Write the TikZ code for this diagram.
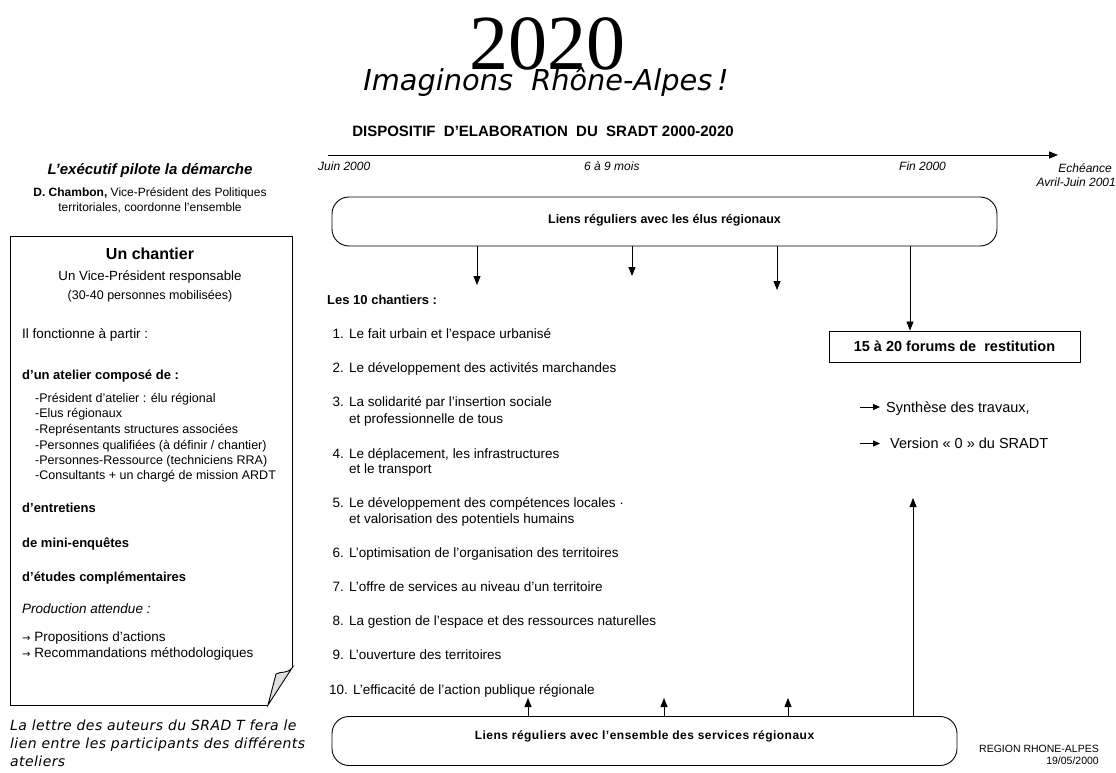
\documentclass[tikz,border=0pt]{standalone}
\usepackage{fontspec}
\setmainfont{Liberation Sans}
\newfontfamily\serifF{Liberation Serif}
\newfontfamily\comicF{DejaVu Sans}
\newfontfamily\dvF{DejaVu Sans}
\usetikzlibrary{arrows.meta}
\newcommand\fsz[2]{\fontsize{#1}{#2}\selectfont}
\begin{document}
\begin{tikzpicture}[x=1pt,y=-1pt,
  lbl/.style={inner sep=0pt, anchor=base west},
  clbl/.style={inner sep=0pt, anchor=base},
  rlbl/.style={inner sep=0pt, anchor=base east},
  boxline/.style={line width=0.9pt},
  rbox/.style={draw, line width=0.9pt, rounded corners=17pt, inner sep=0pt},
  arr/.style={line width=0.8pt, -{Triangle[length=9pt,width=7pt]}},
  sarr/.style={line width=0.8pt, -{Triangle[length=7pt,width=6pt]}},
  lst/.style={lbl, font=\fsz{13.5}{16}},
  llst/.style={lbl, font=\fsz{12.5}{15}},
  tl/.style={inner sep=0pt, anchor=base west, font=\itshape\fsz{12}{14}}
]
\useasboundingbox (0,0) rectangle (1116,773);

% ---------- header ----------
\node[clbl, font=\serifF\fsz{78}{80}] (t2020) at (547,70) {2020};
\node[clbl, font=\comicF\itshape\fsz{28.8}{30}] (imag) at (546,91) {Imaginons\ \ Rhône-Alpes\,!};
\node[clbl, font=\bfseries\fsz{15}{17}] (dispo) at (543,136) {DISPOSITIF\ \ D'ELABORATION\ \ DU\ \ SRADT 2000-2020};

% ---------- timeline ----------
\coordinate (t0) at (328,155);
\coordinate (t1) at (1058,155);
\draw[arr] (t0) -- (t1);
\node[tl] (juin) at (318,170) {Juin 2000};
\node[tl] (mois) at (584,170) {6 à 9 mois};
\node[tl] (fin) at (899,170) {Fin 2000};
\node[tl, anchor=base east] (ech) at (1112,172) {Echéance};
\node[tl, anchor=base east] (avr) at (1116,186) {Avril-Juin 2001};

% ---------- top box ----------
\node[rbox, minimum width=665pt, minimum height=49pt] (topbox) at (664.5,221.5) {};
\node[inner sep=0pt, font=\bfseries\fsz{12.5}{14}] (toptxt) at (664.5,220) {Liens réguliers avec les élus régionaux};

\coordinate (d1) at (477,285);
\coordinate (d2) at (632,276);
\coordinate (d3) at (777,290);
\coordinate (d4) at (910,300);
\draw[arr] (topbox.south -| d1) -- (d1);
\draw[arr] (topbox.south -| d2) -- (d2);
\draw[arr] (topbox.south -| d3) -- (d3);

% ---------- forum ----------
\node[draw, boxline, minimum width=251pt, minimum height=31pt, inner sep=0pt,
      font=\bfseries\fsz{14.5}{16}] (forum) at (954.5,346.5) {15 à 20 forums de\ \ restitution};
\draw[arr] (topbox.south -| d4) -- (forum.north -| d4);

\node[lbl, font=\fsz{14.5}{16}] (synth) at (886,412) {Synthèse des travaux,};
\node[lbl, font=\fsz{14.5}{16}] (vers) at (890,448.5) {Version « 0 » du SRADT};
\coordinate (s1) at (860,407);
\coordinate (s2) at (860,443.5);
\draw[sarr, shorten >=6pt] (s1) -- (synth.west |- s1);
\draw[sarr, shorten >=10pt] (s2) -- (vers.west |- s2);

% ---------- list of chantiers ----------
\node[lbl, font=\bfseries\fsz{13}{15}] (les10) at (327,304.5) {Les 10 chantiers :};
\node[lst, anchor=base east] (n1) at (344,338) {1.};
\node[lst] (c1) at (349,338) {Le fait urbain et l'espace urbanisé};
\node[lst, anchor=base east] (n2) at (344,372) {2.};
\node[lst] (c2) at (349,372) {Le développement des activités marchandes};
\node[lst, anchor=base east] (n3) at (344,406) {3.};
\node[lst] (c3) at (349,406) {La solidarité par l'insertion sociale};
\node[lst] (c3b) at (349,423) {et professionnelle de tous};
\node[lst, anchor=base east] (n4) at (344,458) {4.};
\node[lst] (c4) at (349,458) {Le déplacement, les infrastructures};
\node[lst] (c4b) at (349,473.5) {et le transport};
\node[lst, anchor=base east] (n5) at (344,507) {5.};
\node[lst] (c5) at (349,507) {Le développement des compétences locales ·};
\node[lst] (c5b) at (349,523) {et valorisation des potentiels humains};
\node[lst, anchor=base east] (n6) at (344,557) {6.};
\node[lst] (c6) at (349,557) {L'optimisation de l'organisation des territoires};
\node[lst, anchor=base east] (n7) at (344,591) {7.};
\node[lst] (c7) at (349,591) {L'offre de services au niveau d'un territoire};
\node[lst, anchor=base east] (n8) at (344,625) {8.};
\node[lst] (c8) at (349,625) {La gestion de l'espace et des ressources naturelles};
\node[lst, anchor=base east] (n9) at (344,659) {9.};
\node[lst] (c9) at (349,659) {L'ouverture des territoires};
\node[lst, anchor=base east] (n10) at (348,694) {10.};
\node[lst] (c10) at (353,694) {L'efficacité de l'action publique régionale};

% ---------- bottom box ----------
\node[rbox, minimum width=625pt, minimum height=49pt] (botbox) at (644.5,741) {};
\node[inner sep=0pt, font=\bfseries\fsz{12}{14}] (bottxt) at (644.5,736) {\addfontfeatures{LetterSpace=4}Liens réguliers avec l'ensemble des services régionaux};
\coordinate (u1) at (528,698);
\coordinate (u2) at (664,698);
\coordinate (u3) at (788,698);
\coordinate (u4) at (913,498);
\draw[arr] (botbox.north -| u1) -- (u1);
\draw[arr] (botbox.north -| u2) -- (u2);
\draw[arr] (botbox.north -| u3) -- (u3);
\draw[arr] (botbox.north -| u4) -- (u4);

\node[rlbl, font=\fsz{10.5}{12}] (region) at (1099,752) {REGION RHONE-ALPES};
\node[rlbl, font=\fsz{10.5}{12}] (date) at (1099,764) {19/05/2000};

% ---------- left column ----------
\node[clbl, font=\bfseries\itshape\fsz{15}{17}] (exec) at (150,174) {L'exécutif pilote la démarche};
\node[clbl, font=\fsz{12}{14}] (cham1) at (150,196) {\textbf{D. Chambon,} Vice-Président des Politiques};
\node[clbl, font=\fsz{12}{14}] (cham2) at (150,211) {territoriales, coordonne l'ensemble};

\draw[boxline] (292,668) -- (292,236) -- (10,236) -- (10,705) -- (268,705);
\filldraw[boxline, fill=gray!25] (292,668) .. controls (287,674) and (281,671) .. (276,674) -- (268,705) -- cycle;

\node[clbl, font=\bfseries\fsz{16}{18}] (chant) at (150,259) {Un chantier};
\node[clbl, font=\fsz{13.3}{15}] (vp) at (150,280) {Un Vice-Président responsable};
\node[clbl, font=\fsz{12.5}{14}] (pers) at (150,299.5) {(30-40 personnes mobilisées)};
\node[lbl, font=\fsz{13.5}{15}] (fonct) at (22,338.5) {Il fonctionne à partir :};
\node[lbl, font=\bfseries\fsz{13}{15}] (atel) at (22,379.5) {d'un atelier composé de :};
\node[llst] (a1) at (35,402.5) {-Président d'atelier : élu régional};
\node[llst] (a2) at (35,417.5) {-Elus régionaux};
\node[llst] (a3) at (35,433.5) {-Représentants structures associées};
\node[llst] (a4) at (35,449.5) {-Personnes qualifiées (à définir / chantier)};
\node[llst] (a5) at (35,464.5) {-Personnes-Ressource (techniciens RRA)};
\node[llst] (a6) at (35,479.5) {-Consultants + un chargé de mission ARDT};
\node[lbl, font=\bfseries\fsz{13}{15}] (entr) at (22,512.5) {d'entretiens};
\node[lbl, font=\bfseries\fsz{13}{15}] (mini) at (22,547.5) {de mini-enquêtes};
\node[lbl, font=\bfseries\fsz{13}{15}] (etud) at (22,581.5) {d'études complémentaires};
\node[lbl, font=\itshape\fsz{13.5}{15}] (prod) at (22,613.5) {Production attendue :};
\node[lbl, font=\fsz{13.5}{15}] (p1) at (22,641.5) {{\dvF\fsz{10}{12}→} Propositions d'actions};
\node[lbl, font=\fsz{13.5}{15}] (p2) at (22,657.5) {{\dvF\fsz{10}{12}→} Recommandations méthodologiques};

\node[lbl, font=\comicF\itshape\fsz{14}{16}] (note1) at (10,730) {\addfontfeatures{LetterSpace=3}La lettre des auteurs du SRAD T fera le};
\node[lbl, font=\comicF\itshape\fsz{14}{16}] (note2) at (10,748) {\addfontfeatures{LetterSpace=3}lien entre les participants des différents};
\node[lbl, font=\comicF\itshape\fsz{14}{16}] (note3) at (10,766) {\addfontfeatures{LetterSpace=3}ateliers};
\end{tikzpicture}
\end{document}
